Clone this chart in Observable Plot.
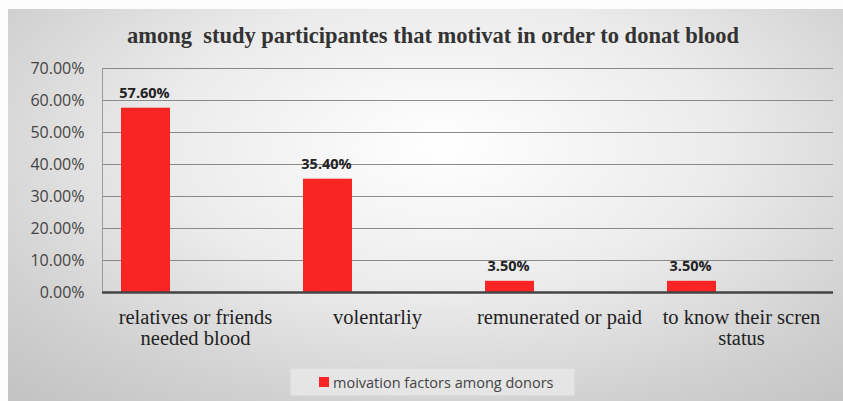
<!DOCTYPE html>
<html>
<head>
<meta charset="utf-8">
<script src="https://cdn.jsdelivr.net/npm/d3@7"></script>
<script src="https://cdn.jsdelivr.net/npm/@observablehq/plot@0.6"></script>
<style>
  html, body { margin: 0; padding: 0; background: #fdfcfd; }
  #wrap { position: relative; width: 843px; height: 401px; overflow: hidden; }
  #panel {
    position: absolute; left: 8px; top: 9px; width: 835px; height: 392px;
    background: radial-gradient(ellipse 75% 85% at 52% 35%, #ffffff 0%, #ebebeb 45%, #d0d0d0 80%, #c4c4c4 100%);
  }
  #title {
    position: absolute; left: 0; top: 14px; width: 850px; text-align: center;
    font-family: "Liberation Serif", serif; font-weight: bold; font-size: 22.5px; color: #333;
    white-space: pre;
  }
  #chart { position: absolute; left: 0; top: 41px; }
  #legend {
    position: absolute; left: 282px; top: 359px; width: 285px; height: 28px;
    background: rgba(232,232,232,0.8); border: 1px solid #dcdcdc; box-sizing: border-box;
    font-family: "Open Sans", sans-serif; font-size: 14.5px; color: #444;
    display: flex; align-items: center;
  }
  #legend .sw { display: inline-block; width: 10px; height: 10px; background: #f92424; margin-left: 28px; margin-right: 4px; }
</style>
</head>
<body>
<div id="wrap">
  <div id="panel">
    <div id="title">among  study participantes that motivat in order to donat blood</div>
    <div id="chart"></div>
    <div id="legend"><span class="sw"></span><span id="legend-text"></span></div>
  </div>
</div>
<script>
const categories = ["relatives or friends needed blood", "volentarliy", "remunerated or paid", "to know their scren status"];
const tickLabels = ["relatives or friends\nneeded blood", "volentarliy", "remunerated or paid", "to know their scren\nstatus"];
const values = [57.6, 35.4, 3.5, 3.5];
const yTicks = [0, 10, 20, 30, 40, 50, 60, 70];
const seriesName = "moivation factors among donors";

const data = categories.map((c, i) => ({category: c, value: values[i]}));
const labelOf = new Map(categories.map((c, i) => [c, tickLabels[i]]));

document.getElementById("legend-text").textContent = seriesName;

const chart = Plot.plot({
  width: 835,
  height: 310,
  marginLeft: 94,
  marginRight: 10,
  marginTop: 18,
  marginBottom: 68,
  style: {background: "transparent", overflow: "visible"},
  x: {domain: categories, padding: 0},
  y: {domain: [0, 70]},
  marks: [
    Plot.gridY(yTicks, {stroke: "#808080", strokeOpacity: 0.9}),
    Plot.frame({anchor: "left", stroke: "#9a9a9a"}),
    Plot.barY(data, {x: "category", y: "value", fill: "#f92424", insetLeft: 17, insetRight: 116}),
    Plot.text(data, {x: "category", y: "value", text: d => d.value.toFixed(2) + "%", dy: -15, dx: -51,
      fontFamily: "Open Sans", fontWeight: "bold", fontSize: 14.5, fill: "#222"}),
    Plot.ruleY([0], {stroke: "#444", strokeWidth: 2.5}),
    Plot.axisY({ticks: yTicks, tickSize: 0, tickPadding: 18, tickFormat: d => d.toFixed(2) + "%",
      fontFamily: "Open Sans", fontSize: 16, fill: "#444", label: null}),
    Plot.axisX({tickSize: 0, tickPadding: 17, tickFormat: d => labelOf.get(d), lineHeight: 1.0,
      fontFamily: "Liberation Serif", fontSize: 20.5, fill: "#222", label: null})
  ]
});
document.getElementById("chart").appendChild(chart);
</script>
</body>
</html>
